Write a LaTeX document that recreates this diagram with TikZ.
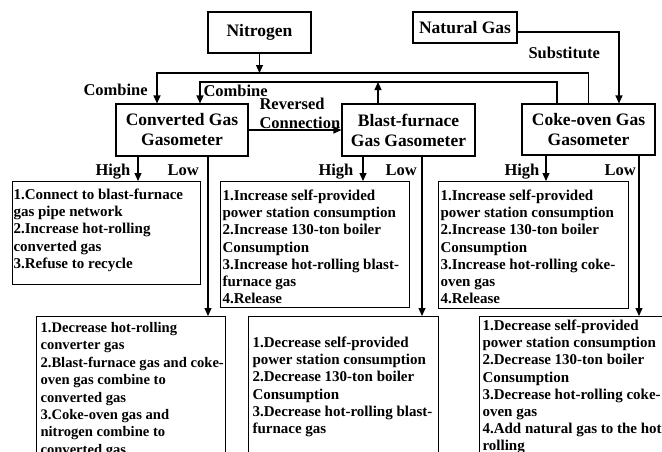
\documentclass[tikz,border=0pt]{standalone}
\usepackage{fontspec}
\setmainfont{Liberation Serif}
\usetikzlibrary{arrows.meta}
\newcommand{\fl}{\rule{0pt}{11pt}}
\begin{document}
\begin{tikzpicture}[x=1pt,y=-1pt, line width=1.1pt,
  arr/.style={-{Triangle[length=8pt,width=7pt]}},
  ttl/.style={draw, align=center, font=\bfseries\fontsize{17.5}{20}\selectfont, inner sep=0},
  lbl/.style={font=\bfseries\fontsize{16.5}{18}\selectfont, inner sep=0, anchor=base west},
  frame/.style={draw, anchor=north west, inner sep=0},
  body/.style={font=\bfseries\fontsize{15}{17.2}\selectfont, align=left, inner sep=0, anchor=north west},
  bodysm/.style={body, font=\bfseries\fontsize{14.6}{17.4}\selectfont}]
\useasboundingbox (0,0) rectangle (662,451);
\clip (0,0) rectangle (662,451);
% title boxes
\node[ttl, minimum width=103pt, minimum height=41pt] (nit) at (259.5,32.5) {Nitrogen};
\node[ttl, minimum width=104pt, minimum height=31pt] (nat) at (465,27.5) {Natural Gas};
\node[ttl, minimum width=132pt, minimum height=52pt] (conv) at (182,130) {Converted Gas\\Gasometer};
\node[ttl, minimum width=133pt, minimum height=52pt] (bf) at (408.5,130) {Blast-furnace\\Gas Gasometer};
\node[ttl, minimum width=133pt, minimum height=51pt] (coke) at (588.5,129.5) {Coke-oven Gas\\Gasometer};
% frames
\node[frame, minimum width=188pt, minimum height=103pt] (ch) at (12,181) {};
\node[frame, minimum width=189pt, minimum height=126pt] (bh) at (220,181) {};
\node[frame, minimum width=190pt, minimum height=127pt] (kh) at (438,181) {};
\node[frame, minimum width=189pt, minimum height=160pt] (cl) at (36,316) {};
\node[frame, minimum width=190pt, minimum height=160pt] (bl) at (248,316) {};
\node[frame, minimum width=200pt, minimum height=160pt] (kl) at (479,316) {};
% body texts
\node[body] (cht) at (13,188) {\fl 1.Connect to blast-furnace\\gas pipe network\\2.Increase hot-rolling\\converted gas\\3.Refuse to recycle};
\node[body] (bht) at (222,189) {\fl 1.Increase self-provided\\power station consumption\\2.Increase 130-ton boiler\\Consumption\\3.Increase hot-rolling blast-\\furnace gas\\4.Release};
\node[body] (kht) at (440,189) {\fl 1.Increase self-provided\\power station consumption\\2.Increase 130-ton boiler\\Consumption\\3.Increase hot-rolling coke-\\oven gas\\4.Release};
\node[bodysm] (clt) at (40,321) {\fl 1.Decrease hot-rolling\\converter gas\\2.Blast-furnace gas and coke-\\oven gas combine to\\converted gas\\3.Coke-oven gas and\\nitrogen combine to\\converted gas};
\node[body] (blt) at (252,336) {\fl 1.Decrease self-provided\\power station consumption\\2.Decrease 130-ton boiler\\Consumption\\3.Decrease hot-rolling blast-\\furnace gas};
\node[body] (klt) at (482,319) {\fl 1.Decrease self-provided\\power station consumption\\2.Decrease 130-ton boiler\\Consumption\\3.Decrease hot-rolling coke-\\oven gas\\4.Add natural gas to the hot\\rolling};
% helper coordinates
\coordinate (top1) at (0,73);
\coordinate (top2) at (0,82);
% connectors
\draw[arr] (nit.south) -- (nit.south |- top1);
\draw[arr] (coke.north) -- (coke.north |- top1) -| ([xshift=-25pt]conv.north);
\draw[arr] ([xshift=-31.5pt]coke.north) -- ([xshift=-31.5pt]coke.north |- top2) -| ([xshift=18pt]conv.north);
\draw[arr] ([xshift=-30.5pt]bf.north) -- ([xshift=-30.5pt]bf.north |- top2);
\draw[arr] ([yshift=-4.5pt]nat.east) -| ([xshift=30.5pt]coke.north);
\draw[arr] (conv.east) -- (bf.west);
\draw[arr] ([xshift=-44pt]conv.south) -- ([xshift=-44pt]conv.south |- ch.north);
\draw[arr] ([xshift=26pt]conv.south) -- ([xshift=26pt]conv.south |- cl.north);
\draw[arr] ([xshift=-45.5pt]bf.south) -- ([xshift=-45.5pt]bf.south |- bh.north);
\draw[arr] ([xshift=13.5pt]bf.south) -- ([xshift=13.5pt]bf.south |- bl.north);
\draw[arr] ([xshift=-42.5pt]coke.south) -- ([xshift=-42.5pt]coke.south |- kh.north);
\draw[arr] ([xshift=50.5pt]coke.south) -- ([xshift=50.5pt]coke.south |- kl.north);
% labels
\node[lbl] (lc1) at (83,95) {Combine};
\node[lbl] (lc2) at (203,96) {Combine};
\node[lbl] (lrv) at (259,109) {Reversed};
\node[lbl] (lcn) at (259,128) {Connection};
\node[lbl] (lsub) at (528,58) {Substitute};
\node[lbl] (h1) at (95,175) {High};
\node[lbl] (w1) at (167,175) {Low};
\node[lbl] (h2) at (318,175) {High};
\node[lbl] (w2) at (385,175) {Low};
\node[lbl] (h3) at (504,175) {High};
\node[lbl] (w3) at (604,175) {Low};
\end{tikzpicture}
\end{document}
